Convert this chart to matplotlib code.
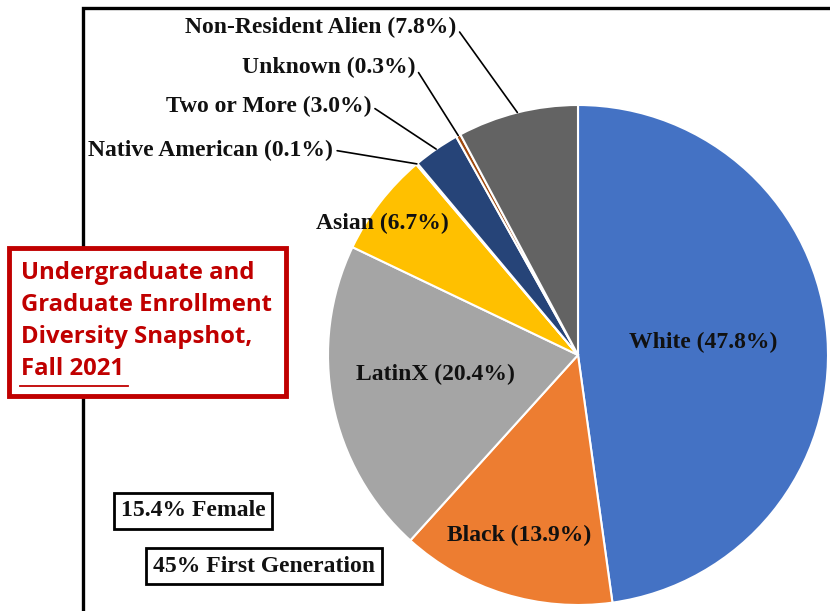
import matplotlib
matplotlib.use("Agg")
import matplotlib.pyplot as plt
import numpy as np
from matplotlib.patches import Rectangle

# enrollment shares, fall 2021
groups = ['White', 'Black', 'LatinX', 'Asian', 'Native American',
          'Two or More', 'Unknown', 'Non-Resident Alien']
shares = [47.8, 13.9, 20.4, 6.7, 0.1, 3.0, 0.3, 7.8]
colors = ['#4472C4', '#ED7D31', '#A5A5A5', '#FFC000', '#5B9BD5',
          '#264478', '#9E480E', '#636363']

title_lines = ['Undergraduate and', 'Graduate Enrollment',
               'Diversity Snapshot,', 'Fall 2021']
facts = ['15.4% Female', '45% First Generation']

W, H = 830, 611
fig = plt.figure(figsize=(W / 100, H / 100), dpi=100)
ax = fig.add_axes([0, 0, 1, 1])
ax.set_xlim(0, W)
ax.set_ylim(H, 0)
ax.set_aspect('equal')
ax.axis('off')

serif = 'Liberation Serif'
fs = 17

# outer frame (open on right/bottom)
ax.plot([83, 83, W + 5], [H + 5, 8, 8], color='black', lw=2.4,
        solid_joinstyle='miter', clip_on=False, zorder=0.5)

cx, cy, r = 578, 355, 250
# y axis is inverted, so counterclock=True draws clockwise on screen
wedges, _ = ax.pie(shares, colors=colors, startangle=-90, counterclock=True,
                   center=(cx, cy), radius=r, frame=False,
                   wedgeprops=dict(edgecolor='white', linewidth=1.5))
ax.set_xlim(0, W)
ax.set_ylim(H, 0)

def label(g, v):
    return f'{g} ({v:.1f}%)'

# labels inside the big slices
inside = {'White': (703, 342), 'Black': (519, 535),
          'LatinX': (435, 374), 'Asian': (382, 223)}
# labels outside, with leader lines (right end of text)
outside = {'Non-Resident Alien': (456, 27), 'Unknown': (415, 67),
           'Two or More': (371, 106), 'Native American': (333, 150)}

for w, g, v in zip(wedges, groups, shares):
    t = np.deg2rad((w.theta1 + w.theta2) / 2)
    edge = (cx + r * np.cos(t), cy + r * np.sin(t))
    if g in inside:
        ax.text(*inside[g], label(g, v), ha='center', va='center',
                family=serif, weight='bold', fontsize=fs, color='#111111')
    else:
        ax.annotate(label(g, v), xy=edge, xytext=outside[g],
                    ha='right', va='center', family=serif, weight='bold',
                    fontsize=fs, color='#111111',
                    arrowprops=dict(arrowstyle='-', color='black', lw=1.2,
                                    relpos=(1, 0.5), shrinkA=1, shrinkB=0))

# title box
red = '#C00000'
ax.add_patch(Rectangle((9, 248), 277, 148, facecolor='white',
                       edgecolor=red, lw=3.5, zorder=3))
for i, line in enumerate(title_lines):
    ax.text(21, 273 + i * 32, line, ha='left', va='center', family='Open Sans',
            weight='bold', fontsize=17.2, color=red, zorder=4)
ax.plot([20, 128], [386, 386], color=red, lw=1.3, zorder=4)

# fact boxes
for txt, (x, y) in zip(facts, [(193, 511), (264, 566)]):
    ax.text(x, y, txt, ha='center', va='center', family=serif,
            weight='bold', fontsize=fs, color='#111111',
            bbox=dict(boxstyle='square,pad=0.3', facecolor='white',
                      edgecolor='black', lw=2))

fig.savefig('out.png', dpi=100)
